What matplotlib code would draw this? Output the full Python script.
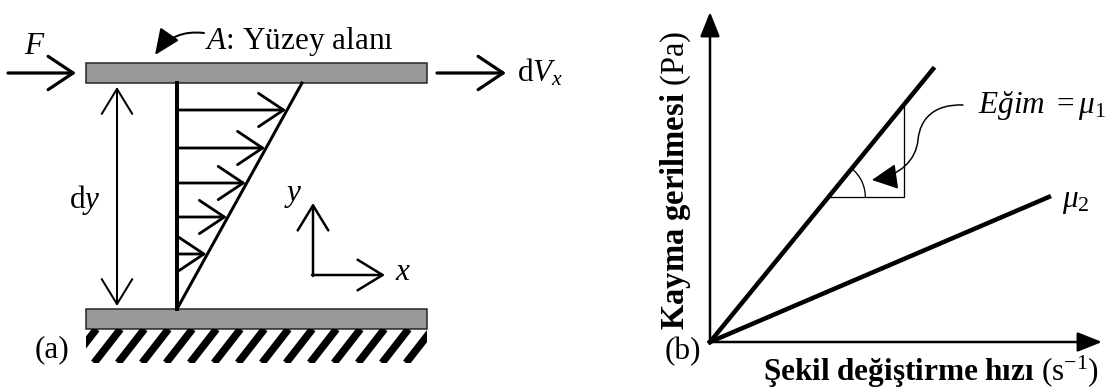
import numpy as np
import matplotlib.pyplot as plt
from matplotlib.patches import Rectangle, Arc, FancyArrowPatch
from matplotlib.path import Path

plt.rcParams['font.family'] = ['Liberation Serif', 'DejaVu Serif']
plt.rcParams['mathtext.fontset'] = 'custom'
plt.rcParams['mathtext.rm'] = 'Liberation Serif'
plt.rcParams['mathtext.it'] = 'Liberation Serif:italic'
plt.rcParams['mathtext.bf'] = 'Liberation Serif:bold'

# panel (a): plates and velocity profile (sketch, pixel units)
plate_x = [86, 427]
top_plate = [63, 83]
bottom_plate = [309, 329]
ground = [329, 363]
wall_x = 177
top_speed_x = 302
profile_y = [110, 148, 183, 217, 254]

# panel (b): shear stress vs strain rate
mu1 = 1.224
mu2 = 0.428
rate1 = [0.0, 0.676]
rate2 = [0.0, 1.027]
tri_y = 0.439
tri_x2 = 0.588

fs = 22.5
lw_px = 0.72  # points per pixel at dpi 100

fig = plt.figure(figsize=(11.1, 3.9), dpi=100)
ax = fig.add_axes([0, 0, 1, 1])
ax.set_xlim(0, 1110)
ax.set_ylim(390, 0)
ax.axis('off')


def arrow(a, p0, p1, lw, style='->', hl=0.6, hw=0.35, ms=20):
    a.annotate('', xy=p1, xytext=p0,
               arrowprops=dict(arrowstyle=f'{style},head_length={hl},head_width={hw}',
                               lw=lw, color='k', shrinkA=0, shrinkB=0,
                               mutation_scale=ms))


# plates
for py in (top_plate, bottom_plate):
    ax.add_patch(Rectangle((plate_x[0], py[0]), plate_x[1] - plate_x[0], py[1] - py[0],
                           facecolor='#989898', edgecolor='#222222', lw=1.5 * lw_px))

# ground stripes
clip = Rectangle((plate_x[0], ground[0]), plate_x[1] - plate_x[0], ground[1] - ground[0],
                 facecolor='none', edgecolor='none')
ax.add_patch(clip)
gh = ground[1] - ground[0]
for x0 in np.arange(plate_x[0] - 40, plate_x[1] + 10, 24):
    ln, = ax.plot([x0, x0 + gh * 0.78], [ground[1], ground[0]], color='k',
                  lw=7.5 * lw_px, solid_capstyle='butt')
    ln.set_clip_path(clip)

# velocity profile
ax.plot([wall_x, wall_x], [top_plate[1], bottom_plate[0]], color='k', lw=4 * lw_px)
ax.plot([wall_x, top_speed_x], [bottom_plate[0], top_plate[1]], color='k', lw=3 * lw_px)
h = bottom_plate[0] - top_plate[1]
for yy in profile_y:
    xe = wall_x + (bottom_plate[0] - yy) / h * (top_speed_x - wall_x)
    arrow(ax, (wall_x, yy), (xe - 1, yy), 2.8 * lw_px, hl=0.9, hw=0.6)

# dy arrow
arrow(ax, (117, 306), (117, 87), 2 * lw_px, style='<->', hl=0.9, hw=0.55)
ax.text(85, 200, r'd$y$', fontsize=fs, ha='center', va='center')

# forces
arrow(ax, (8, 73), (76, 73), 3.2 * lw_px, hl=0.9, hw=0.6)
ax.text(35, 47, r'$F$', fontsize=fs, ha='center', va='center')
arrow(ax, (437, 73), (506, 73), 3.2 * lw_px, hl=0.9, hw=0.6)
ax.text(517, 73, r'd$V_x$', fontsize=fs, ha='left', va='center')

ax.annotate('', xy=(155, 55), xytext=(204, 33),
            arrowprops=dict(arrowstyle='-|>,head_length=0.8,head_width=0.35',
                            lw=2 * lw_px, color='k', shrinkA=0, shrinkB=0,
                            mutation_scale=20, connectionstyle='arc3,rad=0.3'))
ax.text(205, 41, r'$A$: Yüzey alanı', fontsize=fs, ha='left', va='center')

# coordinate axes
arrow(ax, (313, 276), (313, 203), 2.5 * lw_px, hl=0.9, hw=0.55)
arrow(ax, (312, 275), (385, 275), 2.5 * lw_px, hl=0.9, hw=0.55)
ax.text(293, 195, r'$y$', fontsize=fs, ha='center', va='center')
ax.text(403, 272, r'$x$', fontsize=fs, ha='center', va='center')

ax.text(52, 350, '(a)', fontsize=fs, ha='center', va='center')
ax.text(683, 352, '(b)', fontsize=fs, ha='center', va='center')

# panel (b)
bx = fig.add_axes([710 / 1110, 48 / 390, 392 / 1110, 330 / 390])
bx.set_xlim(0, 392 / 330)
bx.set_ylim(0, 1)
bx.axis('off')

for p1 in [(1, 0), (0, 1)]:
    bx.annotate('', xy=p1, xytext=(0, 0), xycoords='axes fraction',
                arrowprops=dict(arrowstyle='-|>,head_length=0.75,head_width=0.3',
                                lw=2.5 * lw_px, color='k', shrinkA=0, shrinkB=0,
                                mutation_scale=20))

r1 = np.array(rate1)
r2 = np.array(rate2)
bx.plot(r1, mu1 * r1, color='k', lw=4.5 * lw_px, clip_on=False)
bx.plot(r2, mu2 * r2, color='k', lw=4.5 * lw_px, clip_on=False)

tri_x1 = tri_y / mu1
bx.plot([tri_x1, tri_x2, tri_x2], [tri_y, tri_y, mu1 * tri_x2], color='k', lw=1.3 * lw_px)
bx.add_patch(Arc((tri_x1, tri_y), 0.224, 0.224, theta1=0,
                 theta2=np.degrees(np.arctan(mu1)), color='k', lw=1.3 * lw_px))

verts = [(963, 105), (935, 104), (920, 118), (918, 140),
         (916, 160), (900, 176), (872, 180)]
codes = [Path.MOVETO] + [Path.CURVE4] * 6
ax.add_patch(FancyArrowPatch(path=Path(verts, codes),
                             arrowstyle='-|>,head_length=0.8,head_width=0.4',
                             mutation_scale=20, lw=1.5 * lw_px, color='k'))

ax.text(978, 105, r'$Eğim\ {=}\mu_{\mathit{1}}$', fontsize=fs, ha='left', va='center')
ax.text(1062, 202, r'$\mu_{\mathit{2}}$', fontsize=fs, ha='left', va='center')

ax.text(676, 180, r'$\mathbf{Kayma\ gerilmesi}$ (Pa)', fontsize=23.5,
        rotation=90, ha='center', va='center')
ax.text(931, 372, r'$\mathbf{Şekil\ değiştirme\ hızı}$ ($\mathrm{s}^{-1}$)',
        fontsize=22.5, ha='center', va='center')

fig.savefig('out.png', dpi=100)
